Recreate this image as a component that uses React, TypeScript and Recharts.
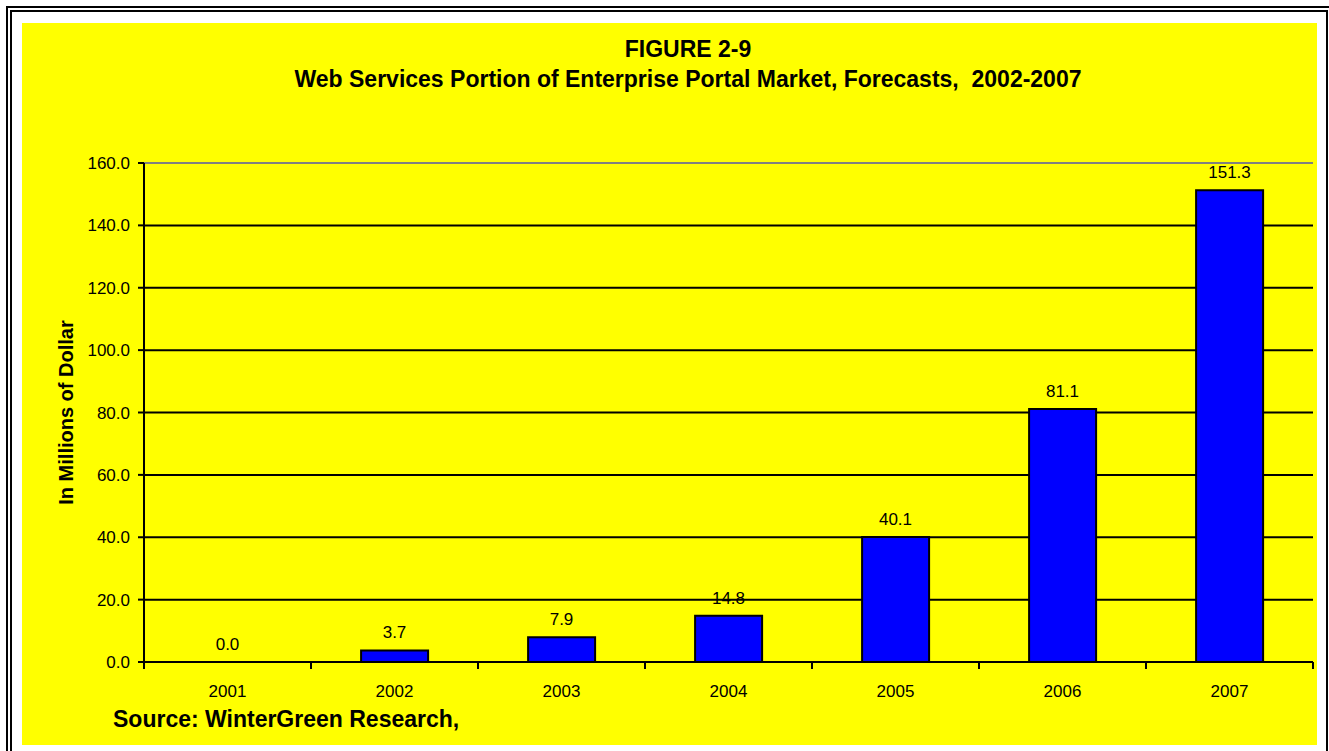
import {
  ComposedChart,
  Bar,
  Line,
  XAxis,
  YAxis,
  CartesianGrid,
  ReferenceLine,
  LabelList,
} from "recharts";

const FONT = "'Liberation Sans', Arial, sans-serif";

// Chart data
const years = ["2001", "2002", "2003", "2004", "2005", "2006", "2007"];
const values = [0.0, 3.7, 7.9, 14.8, 40.1, 81.1, 151.3];
const yTicks = [0, 20, 40, 60, 80, 100, 120, 140, 160];

const titleLine1 = "FIGURE 2-9";
const titleLine2 = "Web Services Portion of Enterprise Portal Market, Forecasts,  2002-2007";
const yLabel = "In Millions of Dollar";
const source = "Source: WinterGreen Research,";

const data = years.map((year, i) => ({ year, value: values[i] }));

const X_TICK_SIZE = 6;
const X_TICK_MARGIN = 17;
const EDGE_TICK = 7;

// year label, plus the tick mark on the category boundary (Excel style)
function YearTick(props: any) {
  const { x, y, payload } = props;
  const half = payload?.offset ?? 0;
  const axisY = y - X_TICK_SIZE - X_TICK_MARGIN;
  const isLast = payload?.value === years[years.length - 1];
  return (
    <g>
      <line x1={x - half} x2={x - half} y1={axisY} y2={axisY + EDGE_TICK} stroke="#000" strokeWidth={2} />
      {isLast && (
        <line x1={x + half} x2={x + half} y1={axisY} y2={axisY + EDGE_TICK} stroke="#000" strokeWidth={2} />
      )}
      <text x={x} y={y} dy="0.71em" textAnchor="middle" fill="#000" fontSize={17} fontFamily={FONT}>
        {payload?.value}
      </text>
    </g>
  );
}

function YLabel(props: any) {
  const vb = props.viewBox || { x: 0, y: 0, width: 0, height: 0 };
  const x = vb.x + 51;
  const y = vb.y + vb.height / 2;
  return (
    <text
      x={x}
      y={y}
      transform={`rotate(-90 ${x} ${y})`}
      textAnchor="middle"
      fontFamily={FONT}
      fontWeight="bold"
      fontSize={20}
      fill="#000"
    >
      {yLabel}
    </text>
  );
}

export default function App() {
  return (
    <div
      style={{
        position: "absolute",
        left: 0,
        top: 0,
        width: 1329,
        height: 751,
        background: "#fff",
        overflow: "hidden",
      }}
    >
      <svg
        width={1329}
        height={751}
        style={{ position: "absolute", left: 0, top: 0 }}
      >
        <rect x={7} y={7} width={1324} height={770} fill="none" stroke="#000" strokeWidth={2} />
        <rect x={11} y={11} width={1316} height={760} fill="none" stroke="#000" strokeWidth={2} />
        <rect x={22} y={23} width={1295} height={722} fill="#ffff00" />
        <text
          x={688}
          y={57}
          textAnchor="middle"
          fontFamily={FONT}
          fontWeight="bold"
          fontSize={23}
          fill="#000"
        >
          {titleLine1}
        </text>
        <text
          x={688}
          y={87}
          textAnchor="middle"
          fontFamily={FONT}
          fontWeight="bold"
          fontSize={23}
          fill="#000"
          style={{ whiteSpace: "pre" }}
        >
          {titleLine2}
        </text>
        <text
          x={113}
          y={727}
          fontFamily={FONT}
          fontWeight="bold"
          fontSize={23}
          fill="#000"
        >
          {source}
        </text>
      </svg>
      <div style={{ position: "absolute", left: 22, top: 23 }}>
        <ComposedChart
          width={1295}
          height={722}
          data={data}
          margin={{ top: 140, right: 4, left: 0, bottom: 43 }}
          barCategoryGap="30%"
        >
          <CartesianGrid vertical={false} stroke="#000" strokeWidth={2} />
          <XAxis
            dataKey="year"
            type="category"
            height={40}
            interval={0}
            tickSize={X_TICK_SIZE}
            tickMargin={X_TICK_MARGIN}
            tickLine={false}
            axisLine={{ stroke: "#000", strokeWidth: 2 }}
            tick={<YearTick />}
          />
          <YAxis
            domain={[0, 160]}
            ticks={yTicks}
            width={122}
            tickSize={6}
            tickMargin={8}
            tickFormatter={(v: number) => v.toFixed(1)}
            axisLine={{ stroke: "#000", strokeWidth: 2 }}
            tickLine={{ stroke: "#000", strokeWidth: 2 }}
            tick={{ fill: "#000", fontSize: 17, fontFamily: FONT }}
            label={<YLabel />}
          />
          <YAxis
            yAxisId="right"
            orientation="right"
            domain={[0, 160]}
            width={0}
            tick={false}
            tickLine={false}
            axisLine={{ stroke: "#808080", strokeWidth: 2 }}
          />
          <ReferenceLine y={160} stroke="#808080" strokeWidth={2} />
          <Bar
            dataKey="value"
            fill="#0000ff"
            stroke="#000"
            strokeWidth={2}
            isAnimationActive={false}
          />
          {/* invisible series that carries the value labels, incl. the 0.0 one */}
          <Line
            dataKey="value"
            stroke="none"
            dot={false}
            activeDot={false}
            isAnimationActive={false}
          >
            <LabelList
              dataKey="value"
              position="top"
              offset={12}
              formatter={(v: any) => Number(v).toFixed(1)}
              fill="#000"
              fontSize={17}
              fontFamily={FONT}
            />
          </Line>
        </ComposedChart>
      </div>
    </div>
  );
}
